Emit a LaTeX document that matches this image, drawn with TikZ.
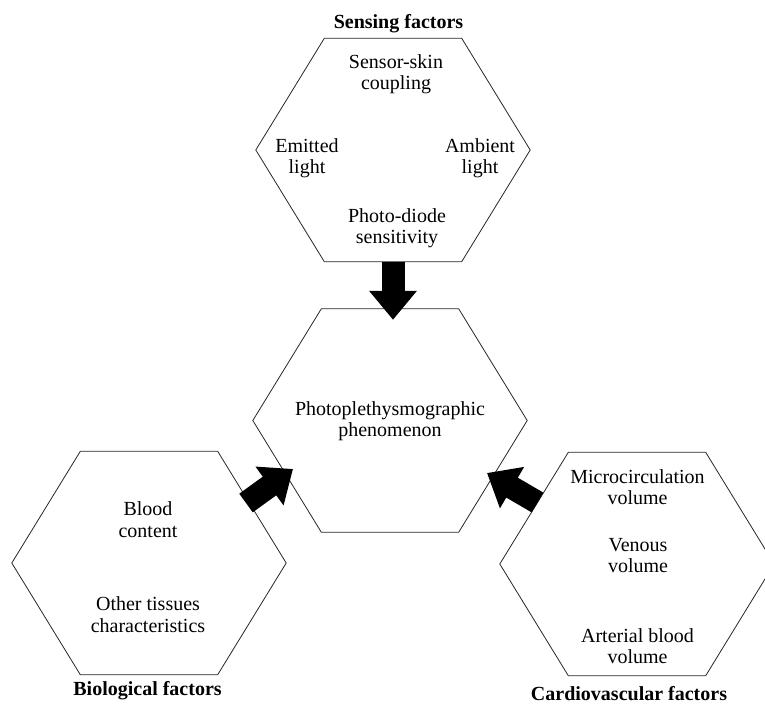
\documentclass[tikz,border=0pt]{standalone}
\usepackage{fontspec}
\setmainfont{Liberation Serif}
\usetikzlibrary{arrows.meta}

\begin{document}
\begin{tikzpicture}[x=1pt, y=-1pt,
    hexbox/.style={rectangle, minimum width=274pt, minimum height=223pt, inner sep=0pt},
    hexline/.style={line width=0.8pt, black!85},
    txt/.style={align=center, inner sep=0pt, font=\fontsize{20}{21.5}\selectfont},
    title/.style={anchor=base, inner sep=0pt, font=\fontsize{20}{21.5}\selectfont\bfseries},
    fatarrow/.style={line width=23pt, -{Triangle[length=29pt, width=46pt]}}]
  \useasboundingbox (0,0) rectangle (765,704);
  \def\c{68.5pt} % half length of the flat top/bottom sides

  % --- Hexagons ---
  \node[hexbox] (sens) at (393,150) {};
  \node[hexbox] (ppg) at (390,420.5) {};
  \node[hexbox] (bio) at (149,563) {};
  \node[hexbox] (cardio) at (637,564) {};
  \foreach \n in {sens,ppg,bio,cardio} {
    \draw[hexline] (\n.west) -- ([xshift=\c]\n.north west) -- ([xshift=-\c]\n.north east)
      -- (\n.east) -- ([xshift=-\c]\n.south east) -- ([xshift=\c]\n.south west) -- cycle;
  }

  % --- Sensing factors ---
  \node[title] (sensT) at (398.5,28.5) {Sensing factors};
  \node[txt] (coupling) at (396,74) {Sensor-skin\\coupling};
  \node[txt] (emitted) at (307,158) {Emitted\\light};
  \node[txt] (ambient) at (480,158) {Ambient\\light};
  \node[txt] (diode) at (397,228) {Photo-diode\\sensitivity};

  % --- Photoplethysmographic phenomenon ---
  \node[txt] (ppgT) at (390,421) {Photoplethysmographic\\phenomenon};

  % --- Biological factors ---
  \node[txt] (blood) at (148,519.5) {Blood\\content};
  \node[txt] (tissue) at (148,614.5) {Other tissues\\characteristics};
  \node[title] (bioT) at (147.5,695) {Biological factors};

  % --- Cardiovascular factors ---
  \node[txt] (micro) at (637.5,487) {Microcirculation\\volume};
  \node[txt] (venous) at (638,555.5) {Venous\\volume};
  \node[txt] (arterial) at (637.5,646) {Arterial blood\\volume};
  \node[title] (cardioT) at (629,700.5) {Cardiovascular factors};

  % --- Arrows into the centre ---
  \coordinate (bioOut) at (246,503);
  \coordinate (ppgInL) at (293,469);
  \coordinate (cardioOut) at (537.5,502.5);
  \coordinate (ppgInR) at (487,473);
  \draw[fatarrow, shorten >=-11pt] (sens.south) -- (sens.south |- ppg.north);
  \draw[fatarrow] (bioOut) -- (ppgInL);
  \draw[fatarrow] (cardioOut) -- (ppgInR);

\end{tikzpicture}
\end{document}
